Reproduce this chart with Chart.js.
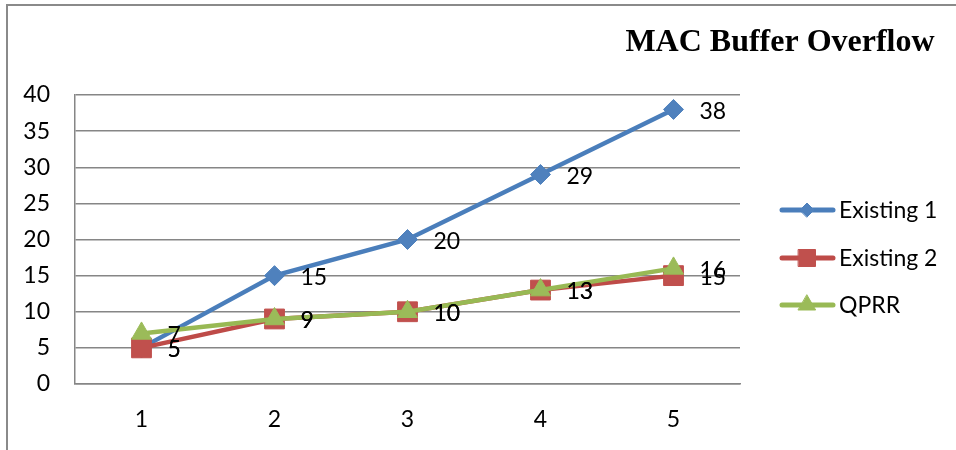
<!DOCTYPE html>
<html>
<head>
<meta charset="utf-8">
<script src="https://cdn.jsdelivr.net/npm/chart.js@4.4.0/dist/chart.umd.min.js"></script>
<style>
    html, body { margin: 0; padding: 0; background: #fff; }
    #wrap { position: relative; width: 956px; height: 450px; overflow: hidden; }
    #frame { position: absolute; left: 6px; top: 4px; width: 1200px; height: 800px;
             border-top: 2px solid #8a8a8a; border-left: 2px solid #8a8a8a; box-sizing: border-box; }
    canvas { position: absolute; left: 0; top: 0; }
</style>
</head>
<body>
<div id="wrap">
    <div id="frame"></div>
    <canvas id="mainChart" width="956" height="450"></canvas>
</div>
<script>
// Dados do gráfico
const categories = ['1', '2', '3', '4', '5'];
const existing1 = [5, 15, 20, 29, 38];
const existing2 = [5, 9, 10, 13, 15];
const qprr = [7, 9, 10, 13, 16];
const yTicks = [0, 5, 10, 15, 20, 25, 30, 35, 40];

const titleText = 'MAC Buffer Overflow';
const labelFont = '23px Lato';

// Rótulos de dados à direita de cada ponto
const dataLabels = {
    id: 'dataLabels',
    afterDatasetsDraw(chart) {
        const ctx = chart.ctx;
        ctx.save();
        ctx.font = labelFont;
        ctx.fillStyle = '#000';
        ctx.textAlign = 'left';
        ctx.textBaseline = 'middle';
        chart.data.datasets.forEach((ds, i) => {
            const meta = chart.getDatasetMeta(i);
            meta.data.forEach((pt, j) => {
                ctx.fillText(String(ds.data[j]), pt.x + 26, pt.y + 2);
            });
        });
        ctx.restore();
    }
};

// Legenda e título desenhados à mão (linha + marcador, como no Excel)
const legendMarkerRadius = [7, 12, 10];
const sideLegend = {
    id: 'sideLegend',
    afterDraw(chart) {
        const ctx = chart.ctx;
        ctx.save();
        ctx.font = 'bold 32px "Liberation Serif"';
        ctx.fillStyle = '#000';
        ctx.textAlign = 'center';
        ctx.textBaseline = 'alphabetic';
        ctx.fillText(titleText, 780, 51);

        const rows = [210, 258, 305];
        chart.data.datasets.forEach((ds, i) => {
            const y = rows[i];
            ctx.strokeStyle = ds.borderColor;
            ctx.lineWidth = 5;
            ctx.lineCap = 'round';
            ctx.beginPath();
            ctx.moveTo(782, y);
            ctx.lineTo(833, y);
            ctx.stroke();
            ctx.fillStyle = ds.pointBackgroundColor;
            ctx.strokeStyle = ds.pointBorderColor;
            ctx.lineWidth = 1;
            Chart.helpers.drawPoint(ctx, {
                pointStyle: ds.pointStyle,
                radius: legendMarkerRadius[i],
                borderWidth: 1
            }, 807, y);
            ctx.fillStyle = '#000';
            ctx.font = labelFont;
            ctx.textAlign = 'left';
            ctx.textBaseline = 'middle';
            ctx.fillText(ds.label, 839, y + 1);
        });
        ctx.restore();
    }
};

function createMainChart() {
    const ctx = document.getElementById('mainChart');

    const mainChart = new Chart(ctx, {
        type: 'line',
        data: {
            labels: categories,
            datasets: [{
                label: 'Existing 1',
                data: existing1,
                borderColor: '#4A7EBB',
                borderWidth: 4.5,
                pointStyle: 'rectRot',
                pointRadius: 10,
                pointBackgroundColor: '#4F81BD',
                pointBorderColor: '#4F81BD',
                pointBorderWidth: 1,
                order: 3
            }, {
                label: 'Existing 2',
                data: existing2,
                borderColor: '#BE4B48',
                borderWidth: 4.5,
                pointStyle: 'rect',
                pointRadius: 14,
                pointBackgroundColor: '#C0504D',
                pointBorderColor: '#C0504D',
                pointBorderWidth: 1,
                order: 2
            }, {
                label: 'QPRR',
                data: qprr,
                borderColor: '#98B954',
                borderWidth: 4.5,
                pointStyle: 'triangle',
                pointRadius: 11.5,
                pointBackgroundColor: '#9BBB59',
                pointBorderColor: '#9BBB59',
                pointBorderWidth: 1,
                order: 1
            }]
        },
        options: {
            responsive: false,
            animation: false,
            layout: {
                padding: { left: 0, top: 95, right: 216, bottom: 0 }
            },
            plugins: {
                legend: { display: false },
                title: { display: false },
                tooltip: { enabled: false }
            },
            scales: {
                x: {
                    offset: true,
                    grid: { display: false, drawTicks: false },
                    border: { display: true, color: '#868686', width: 1.5 },
                    ticks: { color: '#000', font: { family: 'Lato', size: 23 }, padding: 22 },
                    afterFit(scale) { scale.height = 66; }
                },
                y: {
                    min: 0,
                    max: 40,
                    afterBuildTicks(scale) { scale.ticks = yTicks.map(v => ({ value: v })); },
                    grid: { color: '#868686', lineWidth: 1.5, drawTicks: false },
                    border: { display: true, color: '#868686', width: 1.5 },
                    ticks: { color: '#000', font: { family: 'Lato', size: 23 }, padding: 25 },
                    afterFit(scale) { scale.width = 75; }
                }
            }
        },
        plugins: [dataLabels, sideLegend]
    });

    window.mainChart = mainChart;
}

createMainChart();
</script>
</body>
</html>
